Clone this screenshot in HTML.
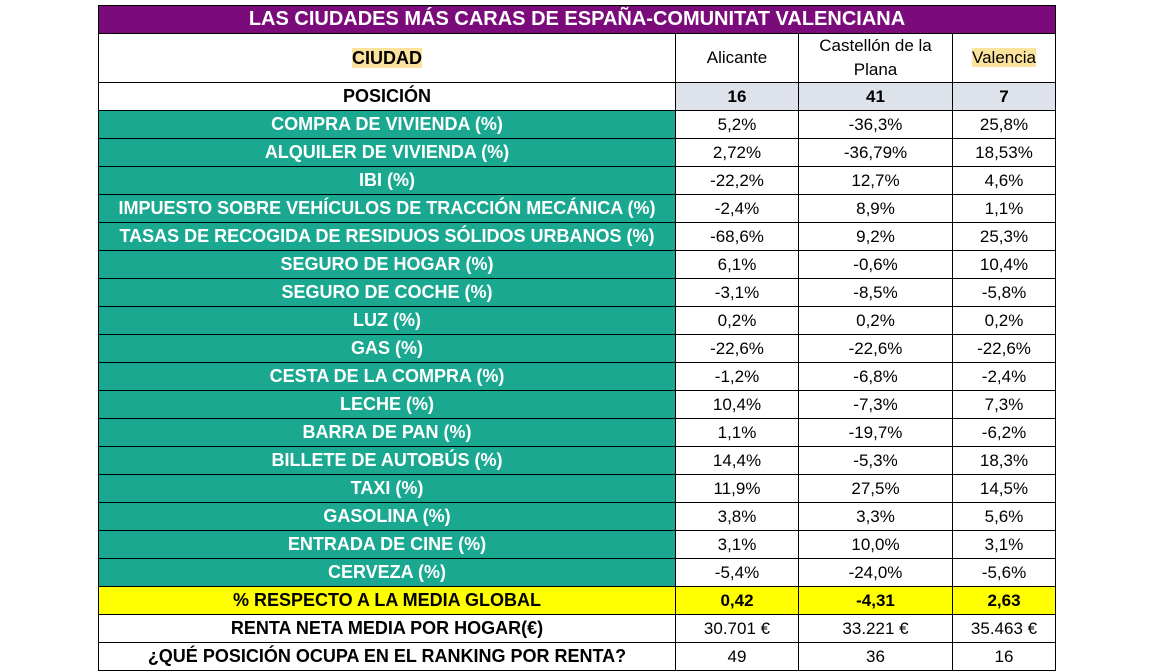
<!DOCTYPE html>
<html><head><meta charset="utf-8"><style>
body{margin:0;background:#fff;width:1165px;height:672px;overflow:hidden;font-family:"Liberation Sans",Arial,sans-serif;}
table{position:absolute;left:98px;top:5px;border-collapse:collapse;table-layout:fixed;width:957px;}
td{border:1px solid #000;text-align:center;padding:0;font-size:17px;color:#000;overflow:hidden;white-space:nowrap;}
.t td{background:#7b0b7b;color:#fff;font-weight:bold;font-size:20px;height:27px;}
.l{background:#1ba891;color:#fff;font-weight:bold;font-size:18px;}
.b{font-weight:bold;font-size:18px}
.g{background:#dee2ea;font-weight:bold}
.y td{background:#ffff00;font-weight:bold}
.y td:first-child{font-size:18px}
.hl{background:#fbe29d;}
tr.r td{height:27px;}
</style></head><body>
<table>
<colgroup><col style="width:577px"><col style="width:123px"><col style="width:154px"><col style="width:103px"></colgroup>
<tr class="t"><td colspan="4">LAS CIUDADES MÁS CARAS DE ESPAÑA-COMUNITAT VALENCIANA</td></tr>
<tr><td class="b" style="height:47px"><span class="hl">CIUDAD</span></td><td>Alicante</td><td style="line-height:24px">Castellón de la<br>Plana</td><td><span class="hl">Valencia</span></td></tr>
<tr class="r"><td class="b">POSICIÓN</td><td class="g">16</td><td class="g">41</td><td class="g">7</td></tr>
<tr class="r"><td class="l">COMPRA DE VIVIENDA (%)</td><td>5,2%</td><td>-36,3%</td><td>25,8%</td></tr>
<tr class="r"><td class="l">ALQUILER DE VIVIENDA (%)</td><td>2,72%</td><td>-36,79%</td><td>18,53%</td></tr>
<tr class="r"><td class="l">IBI (%)</td><td>-22,2%</td><td>12,7%</td><td>4,6%</td></tr>
<tr class="r"><td class="l">IMPUESTO SOBRE VEHÍCULOS DE TRACCIÓN MECÁNICA (%)</td><td>-2,4%</td><td>8,9%</td><td>1,1%</td></tr>
<tr class="r"><td class="l">TASAS DE RECOGIDA DE RESIDUOS SÓLIDOS URBANOS (%)</td><td>-68,6%</td><td>9,2%</td><td>25,3%</td></tr>
<tr class="r"><td class="l">SEGURO DE HOGAR (%)</td><td>6,1%</td><td>-0,6%</td><td>10,4%</td></tr>
<tr class="r"><td class="l">SEGURO DE COCHE (%)</td><td>-3,1%</td><td>-8,5%</td><td>-5,8%</td></tr>
<tr class="r"><td class="l">LUZ (%)</td><td>0,2%</td><td>0,2%</td><td>0,2%</td></tr>
<tr class="r"><td class="l">GAS (%)</td><td>-22,6%</td><td>-22,6%</td><td>-22,6%</td></tr>
<tr class="r"><td class="l">CESTA DE LA COMPRA (%)</td><td>-1,2%</td><td>-6,8%</td><td>-2,4%</td></tr>
<tr class="r"><td class="l">LECHE (%)</td><td>10,4%</td><td>-7,3%</td><td>7,3%</td></tr>
<tr class="r"><td class="l">BARRA DE PAN (%)</td><td>1,1%</td><td>-19,7%</td><td>-6,2%</td></tr>
<tr class="r"><td class="l">BILLETE DE AUTOBÚS (%)</td><td>14,4%</td><td>-5,3%</td><td>18,3%</td></tr>
<tr class="r"><td class="l">TAXI (%)</td><td>11,9%</td><td>27,5%</td><td>14,5%</td></tr>
<tr class="r"><td class="l">GASOLINA (%)</td><td>3,8%</td><td>3,3%</td><td>5,6%</td></tr>
<tr class="r"><td class="l">ENTRADA DE CINE (%)</td><td>3,1%</td><td>10,0%</td><td>3,1%</td></tr>
<tr class="r"><td class="l">CERVEZA (%)</td><td>-5,4%</td><td>-24,0%</td><td>-5,6%</td></tr>
<tr class="r y"><td>% RESPECTO A LA MEDIA GLOBAL</td><td>0,42</td><td>-4,31</td><td>2,63</td></tr>
<tr class="r"><td class="b">RENTA NETA MEDIA POR HOGAR(€)</td><td>30.701 €</td><td>33.221 €</td><td>35.463 €</td></tr>
<tr class="r"><td class="b">¿QUÉ POSICIÓN OCUPA EN EL RANKING POR RENTA?</td><td>49</td><td>36</td><td>16</td></tr>
</table>
</body></html>
